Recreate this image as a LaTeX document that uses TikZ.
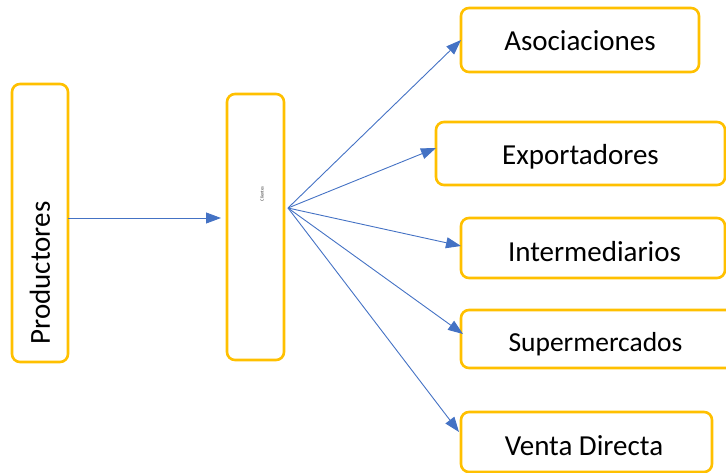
\documentclass[tikz,border=0pt]{standalone}
\usepackage{fontspec}
\setmainfont{Carlito}
\usetikzlibrary{arrows.meta}
\definecolor{boxyellow}{HTML}{FFC000}
\definecolor{arrowblue}{HTML}{4472C4}
\tikzset{
  box/.style={draw=boxyellow, line width=2.6pt, rounded corners=8pt, fill=white, inner sep=0pt},
  lbl/.style={font=\fontsize{29}{32}\selectfont, inner sep=0pt, text=black},
  conn/.style={draw=arrowblue, line width=0.9pt, -{Triangle[length=15pt,width=11pt]}},
}
\begin{document}
\begin{tikzpicture}[x=1pt,y=-1pt]
\useasboundingbox (0,0) rectangle (726,473);
% boxes
\node[box, minimum width=56pt, minimum height=278pt] (prod) at (40,223) {};
\node[box, minimum width=57pt, minimum height=266pt] (mid) at (255.5,227) {};
\node[box, minimum width=238pt, minimum height=64pt] (aso) at (580,40) {};
\node[box, minimum width=289pt, minimum height=63pt] (exp) at (580.5,153.5) {};
\node[box, minimum width=264pt, minimum height=60pt] (int) at (593,248) {};
\node[box, minimum width=280pt, minimum height=58pt] (sup) at (601,339) {};
\node[box, minimum width=251pt, minimum height=60pt] (ven) at (586.5,442) {};
% labels
\node[lbl, rotate=90] (tprod) at (40,273) {Productores};
\node[font=\fontsize{4.5}{5}\selectfont, rotate=90, text=black!80, inner sep=0pt] (tmid) at (262,194) {Clientes};
\node[lbl] (taso) at (580,41) {Asociaciones};
\node[lbl] (texp) at (580.5,157) {Exportadores};
\node[lbl] (tint) at (594.5,252) {Intermediarios};
\node[lbl, font=\fontsize{27.5}{30}\selectfont] (tsup) at (595.5,344) {Supermercados};
\node[lbl] (tven) at (584,446) {Venta Directa};
% connector points
\coordinate (pstart) at (68,218);
\coordinate (pend) at (221,218);
\coordinate (hub) at (288,208);
\coordinate (easo) at (461,40);
\coordinate (eexp) at (436,148);
\coordinate (eint) at (461,246);
\coordinate (esup) at (463,334);
\coordinate (even) at (459,432);
% connectors
\draw[conn] (pstart) -- (pend);
\draw[conn] (hub) -- (easo);
\draw[conn] (hub) -- (eexp);
\draw[conn] (hub) -- (eint);
\draw[conn] (hub) -- (esup);
\draw[conn] (hub) -- (even);
\end{tikzpicture}
\end{document}
